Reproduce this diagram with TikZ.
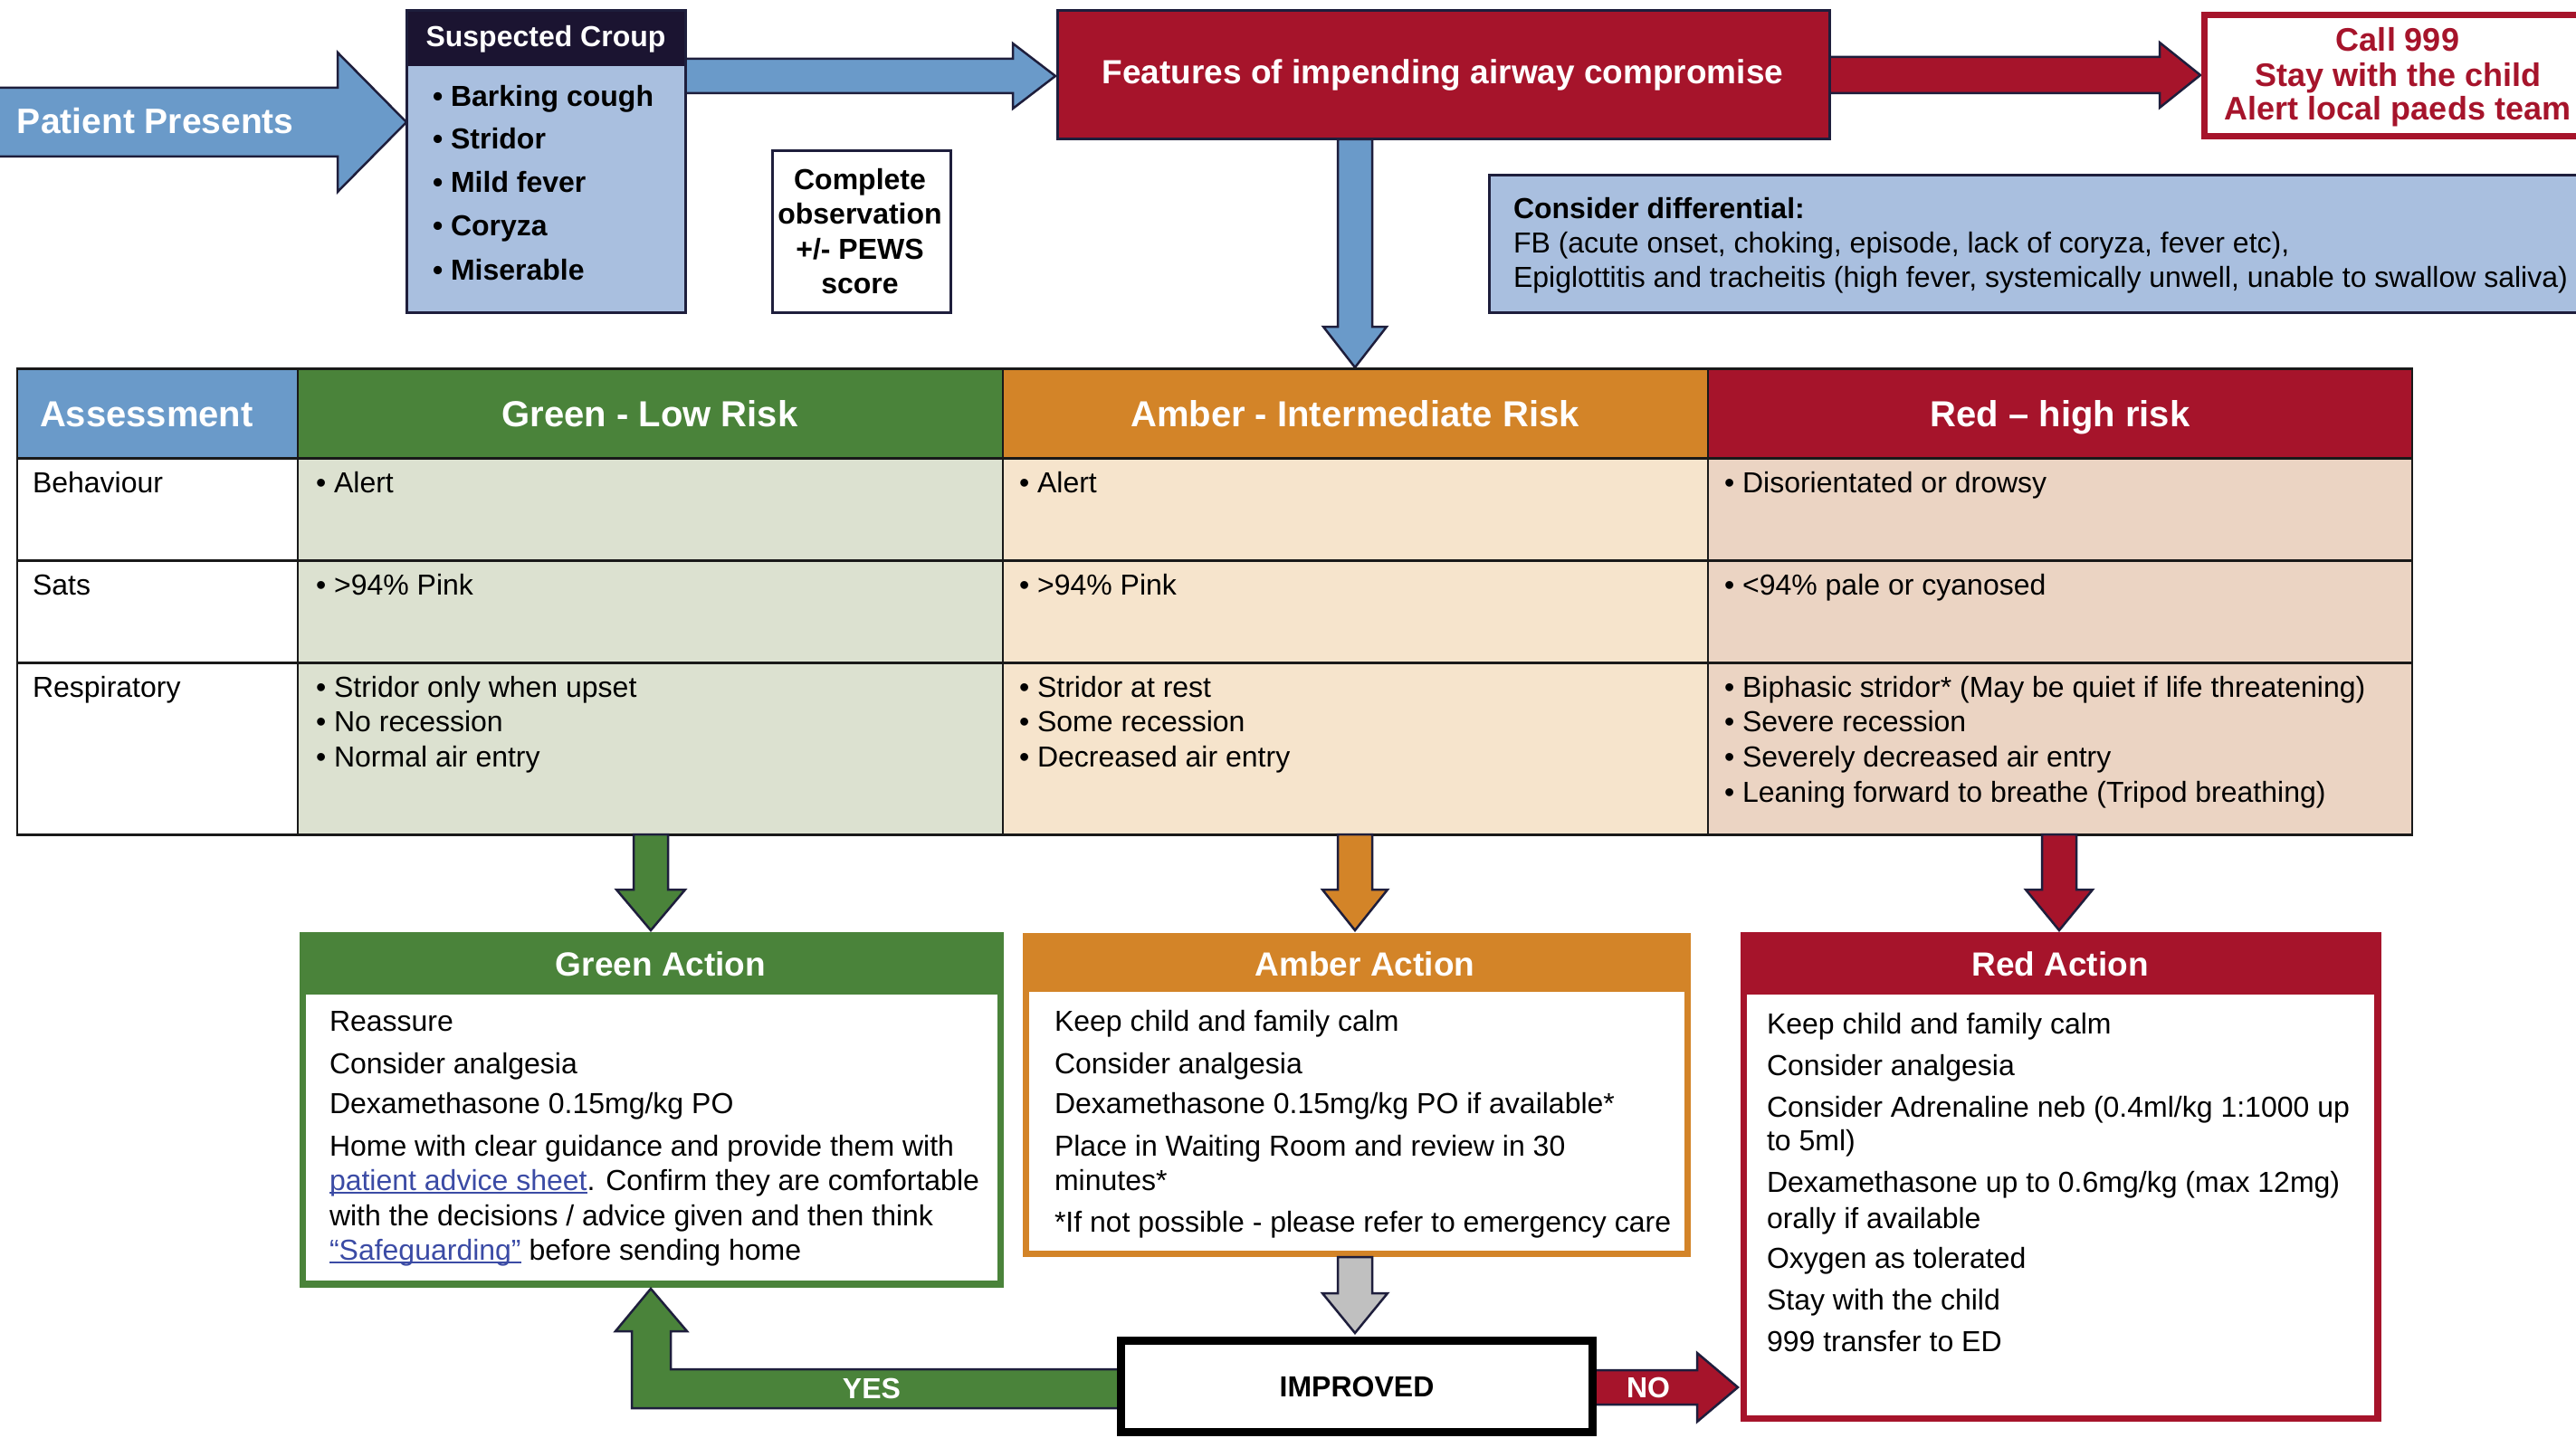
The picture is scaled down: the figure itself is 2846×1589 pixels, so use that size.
\documentclass[tikz,border=0pt]{standalone}
\usepackage{fontspec}
\setmainfont{Liberation Sans}
\definecolor{navy}{HTML}{1B1431}
\definecolor{outl}{HTML}{1E1E3C}
\definecolor{steel}{HTML}{6A9AC9}
\definecolor{pale}{HTML}{A9BFDF}
\definecolor{crim}{HTML}{A6142B}
\definecolor{grn}{HTML}{4A833A}
\definecolor{amb}{HTML}{D38428}
\definecolor{grnL}{HTML}{DCE1D0}
\definecolor{ambL}{HTML}{F6E4CC}
\definecolor{redL}{HTML}{EBD4C3}
\definecolor{gry}{HTML}{C0C0C0}
\definecolor{linkblue}{HTML}{3B4BA5}
\newcommand\lnk[1]{{\color{linkblue}\setbox0\hbox{#1}\rlap{\rule[-4pt]{\wd0}{2pt}}\box0}}
\newcommand\hbarr[7]{\draw[#1] (#2,{#5-#6}) -- (#3,{#5-#6}) -- (#3,{#5-#7}) -- (#4,#5) -- (#3,{#5+#7}) -- (#3,{#5+#6}) -- (#2,{#5+#6}) -- cycle;}
\newcommand\vbarr[7]{\draw[#1] ({#5-#6},#2) -- ({#5-#6},#3) -- ({#5-#7},#3) -- (#5,#4) -- ({#5+#7},#3) -- ({#5+#6},#3) -- ({#5+#6},#2) -- cycle;}
\begin{document}
\begin{tikzpicture}[x=1pt,y=-1pt,
 txt/.style={inner sep=0pt, outer sep=0pt, anchor=base west, font=\fontsize{32}{38}\selectfont},
 btxt/.style={inner sep=0pt, outer sep=0pt, anchor=base, font=\bfseries\fontsize{32}{38}\selectfont},
 bwl/.style={inner sep=0pt, outer sep=0pt, anchor=base west, font=\bfseries\fontsize{32}{38}\selectfont},
 blk/.style={draw=outl, line width=2.5pt, line join=miter},
 boxn/.style={inner sep=0pt, outer sep=0pt, anchor=north west},
]
\useasboundingbox (0,0) rectangle (2846,1589);
\clip (0,0) rectangle (2846,1589);
\fill[white] (0,0) rectangle (2846,1589);

% ---------- top arrows ----------
\hbarr{blk,fill=steel}{-10}{373}{449}{135}{38}{77}
\hbarr{blk,fill=steel}{757}{1119}{1166}{84}{19}{36}
\hbarr{blk,fill=crim}{2021}{2386}{2431}{83}{20}{36}
\vbarr{blk,fill=steel}{154}{361}{406}{1497}{19}{35}

% ---------- top boxes ----------
\node[boxn, fill=pale, minimum width=308pt, minimum height=333pt] (croup) at (449,12) {};
\fill[navy] (449,12) rectangle (757,73);
\draw[outl, line width=3pt] (croup.north west) rectangle (croup.south east);
\node[boxn, fill=crim, draw=outl, line width=3pt, minimum width=853pt, minimum height=142pt] (feat) at (1168,12) {};
\node[boxn, fill=white, draw=crim, line width=7pt, minimum width=460pt, minimum height=134pt] (call) at (2435.5,16.5) {};
\node[boxn, fill=white, draw=outl, line width=3pt, minimum width=197pt, minimum height=178pt] (obs) at (853,167) {};
\node[boxn, fill=pale, draw=outl, line width=3pt, minimum width=1240pt, minimum height=151pt] (diff) at (1645,194) {};

% ---------- top texts ----------
\node[bwl, text=white, font=\bfseries\fontsize{39}{46}\selectfont] (pp) at (19,148) {Patient Presents};
\node[btxt, text=white] (sct) at (603,52) {Suspected Croup};
\foreach \yy/\mytext [count=\i] in {118/{Barking cough},165/{Stridor},213/{Mild fever},261/{Coryza},309/{Miserable}}
  \node[bwl, name=cb\i] at (478,\yy) {• \mytext};
\foreach \yy/\mytext [count=\i] in {210/{Complete},248/{observation},287/{+/- PEWS},324/{score}}
  \node[btxt, name=ob\i] at (950,\yy) {\mytext};
\node[btxt, text=white, font=\bfseries\fontsize{37}{44}\selectfont] (featt) at (1594,93) {Features of impending airway compromise};
\foreach \yy/\mytext [count=\i] in {57/{Call 999},96/{Stay with the child},133/{Alert local paeds team}}
  \node[btxt, text=crim, font=\bfseries\fontsize{36}{42}\selectfont, name=cl\i] at (2649,\yy) {\mytext};
\node[bwl] (dif1) at (1672,242) {Consider differential:};
\node[txt] (dif2) at (1672,280) {FB (acute onset, choking, episode, lack of coryza, fever etc),};
\node[txt] (dif3) at (1672,318) {Epiglottitis and tracheitis (high fever, systemically unwell, unable to swallow saliva)};

% ---------- table ----------
\fill[steel] (19,407) rectangle (329,506);
\fill[grn] (329,407) rectangle (1108,506);
\fill[amb] (1108,407) rectangle (1887,506);
\fill[crim] (1887,407) rectangle (2665,506);
\fill[white] (19,506) rectangle (329,922);
\fill[grnL] (329,506) rectangle (1108,922);
\fill[ambL] (1108,506) rectangle (1887,922);
\fill[redL] (1887,506) rectangle (2665,922);
\foreach \y in {407,506,619,732,922} \draw[line width=3pt, black!90] (18,\y) -- (2666,\y);
\foreach \x in {19,329,1108,1887,2665} \draw[line width=2pt, black!90] (\x,407) -- (\x,922);

\node[bwl, text=white, font=\bfseries\fontsize{40}{46}\selectfont] (hA) at (44,471) {Assessment};
\node[btxt, text=white, font=\bfseries\fontsize{40}{46}\selectfont] (hG) at (718,471) {Green - Low Risk};
\node[btxt, text=white, font=\bfseries\fontsize{40}{46}\selectfont] (hM) at (1497,471) {Amber - Intermediate Risk};
\node[btxt, text=white, font=\bfseries\fontsize{40}{46}\selectfont] (hR) at (2276,471) {Red – high risk};

\node[txt] (r1) at (36,544) {Behaviour};
\node[txt] (r2) at (36,657) {Sats};
\node[txt] (r3) at (36,770) {Respiratory};
\node[txt] (g1) at (349,544) {• Alert};
\node[txt] (g2) at (349,657) {• >94\% Pink};
\node[txt] (a1) at (1126,544) {• Alert};
\node[txt] (a2) at (1126,657) {• >94\% Pink};
\node[txt] (d1) at (1905,544) {• Disorientated or drowsy};
\node[txt] (d2) at (1905,657) {• <94\% pale or cyanosed};
\foreach \yy/\mytext [count=\i] in {770/{Stridor only when upset},808/{No recession},847/{Normal air entry}}
  \node[txt, name=g3\i] at (349,\yy) {• \mytext};
\foreach \yy/\mytext [count=\i] in {770/{Stridor at rest},808/{Some recession},847/{Decreased air entry}}
  \node[txt, name=a3\i] at (1126,\yy) {• \mytext};
\foreach \yy/\mytext [count=\i] in {770/{Biphasic stridor* (May be quiet if life threatening)},808/{Severe recession},847/{Severely decreased air entry},886/{Leaning forward to breathe (Tripod breathing)}}
  \node[txt, name=d3\i] at (1905,\yy) {• \mytext};

% ---------- arrows to actions ----------
\vbarr{blk,fill=grn}{922}{983}{1028}{719}{19}{38}
\vbarr{blk,fill=amb}{922}{983}{1028}{1497}{19}{36}
\vbarr{blk,fill=crim}{922}{983}{1028}{2275}{19}{37}

% ---------- action boxes ----------
\node[boxn, fill=grn, minimum width=778pt, minimum height=393pt] (gact) at (331,1030) {};
\fill[white] (338,1099) rectangle (1102,1415);
\node[boxn, fill=amb, minimum width=738pt, minimum height=358pt] (aact) at (1130,1031) {};
\fill[white] (1137,1096) rectangle (1861,1382);
\node[boxn, fill=crim, minimum width=708pt, minimum height=541pt] (ract) at (1923,1030) {};
\fill[white] (1930,1099) rectangle (2623,1564);

\node[btxt, text=white, font=\bfseries\fontsize{37}{44}\selectfont] (gat) at (730,1078) {Green Action};
\node[btxt, text=white, font=\bfseries\fontsize{37}{44}\selectfont] (aat) at (1508,1078) {Amber Action};
\node[btxt, text=white, font=\bfseries\fontsize{37}{44}\selectfont] (rat) at (2276,1078) {Red Action};

\foreach \yy/\mytext [count=\i] in {1139/{Reassure},1186/{Consider analgesia},1230/{Dexamethasone 0.15mg/kg PO},1277/{Home with clear guidance and provide them with},1315/{\lnk{patient advice sheet}. Confirm they are comfortable},1354/{with the decisions / advice given and then think},1392/{\lnk{“Safeguarding”} before sending home}}
  \node[txt, name=gt\i] at (364,\yy) {\mytext};
\foreach \yy/\mytext [count=\i] in {1139/{Keep child and family calm},1186/{Consider analgesia},1230/{Dexamethasone 0.15mg/kg PO if available*},1277/{Place in Waiting Room and review in 30},1315/{minutes*},1361/{*If not possible - please refer to emergency care}}
  \node[txt, name=at\i] at (1165,\yy) {\mytext};
\foreach \yy/\mytext [count=\i] in {1142/{Keep child and family calm},1188/{Consider analgesia},1234/{Consider Adrenaline neb (0.4ml/kg 1:1000 up},1271/{to 5ml)},1317/{Dexamethasone up to 0.6mg/kg (max 12mg)},1357/{orally if available},1401/{Oxygen as tolerated},1447/{Stay with the child},1493/{999 transfer to ED}}
  \node[txt, name=rt\i] at (1952,\yy) {\mytext};

% ---------- improved & decision arrows ----------
\vbarr{blk,fill=gry}{1389}{1429}{1473}{1497}{19}{36}
\draw[blk, fill=grn] (1240,1513) -- (741,1513) -- (741,1471) -- (759,1471) -- (719,1424) -- (680,1471) -- (698,1471) -- (698,1556) -- (1240,1556) -- cycle;
\hbarr{blk,fill=crim}{1758}{1875}{1920}{1533}{19}{38}
\node[boxn, fill=white, draw=black, line width=9pt, minimum width=521pt, minimum height=101pt] (imp) at (1238.5,1481.5) {};
\node[btxt] (impt) at (1499,1543) {IMPROVED};
\node[btxt, text=white] (yes) at (963,1545) {YES};
\node[btxt, text=white] (no) at (1821,1544) {NO};
\end{tikzpicture}
\end{document}
